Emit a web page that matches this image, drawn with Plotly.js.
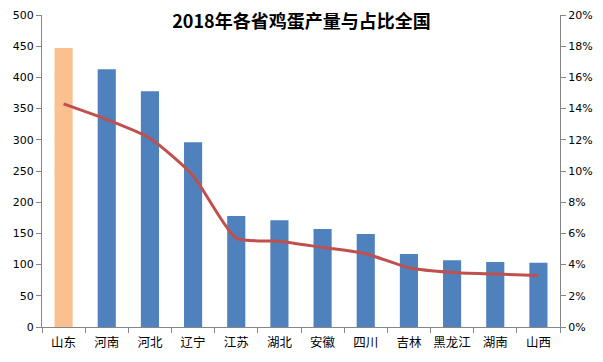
<!DOCTYPE html>
<html><head><meta charset="utf-8">
<script src="https://cdn.plot.ly/plotly-3.0.1.min.js"></script>
<style>html,body{margin:0;padding:0;background:#fff}#c{width:603px;height:362px}</style>
</head><body><div id="c"></div>
<script>
const provinces = ["山东","河南","河北","辽宁","江苏","湖北","安徽","四川","吉林","黑龙江","湖南","山西"];
const output = [447, 413, 378, 296, 178, 171, 157, 149, 117, 107, 104, 103];
const share = [0.143, 0.133, 0.121, 0.097, 0.057, 0.055, 0.051, 0.047, 0.038, 0.035, 0.034, 0.033];
const barColors = provinces.map((p,i)=> i===0 ? "#FAC090" : "#4F81BD");

const data = [
  {type:"bar", x:provinces, y:output, marker:{color:barColors}, yaxis:"y", hoverinfo:"x+y"},
  {type:"scatter", mode:"lines", x:provinces, y:share, yaxis:"y2",
   line:{color:"#C0504D", width:3, shape:"spline", smoothing:0.6}}
];
const tickFont = {family:"DejaVu Sans, Verdana, sans-serif", size:11, color:"#000"};
const layout = {
  width:603, height:362,
  margin:{l:42, r:43, t:15, b:35},
  paper_bgcolor:"#fff", plot_bgcolor:"#fff",
  showlegend:false,
  bargap:0.58,
  title:{text:"<b>2018年各省鸡蛋产量与占比全国</b>", x:0.5, xanchor:"center", y:0.94, yanchor:"middle",
    font:{family:"Noto Sans CJK SC, sans-serif", size:18, color:"#000"}},
  xaxis:{type:"category", showline:true, linecolor:"#868686", linewidth:1, tickangle:0,
    ticks:"outside", ticklen:5, tickcolor:"#868686", tickson:"boundaries", ticklabelstandoff:4,
    tickfont:{family:"Noto Sans CJK SC, sans-serif", size:12.5, color:"#000"}, showgrid:false, zeroline:false},
  yaxis:{range:[0,500], dtick:50, showline:true, linecolor:"#868686", linewidth:1,
    ticks:"outside", ticklen:5, tickcolor:"#868686", showgrid:false, zeroline:false, tickfont:tickFont},
  yaxis2:{range:[0,0.2], dtick:0.02, tickformat:".0%", overlaying:"y", side:"right",
    showline:true, linecolor:"#868686", linewidth:1, ticks:"outside", ticklen:5, tickcolor:"#868686",
    showgrid:false, zeroline:false, tickfont:tickFont}
};
Plotly.newPlot("c", data, layout, {displayModeBar:false, staticPlot:true});
</script></body></html>
